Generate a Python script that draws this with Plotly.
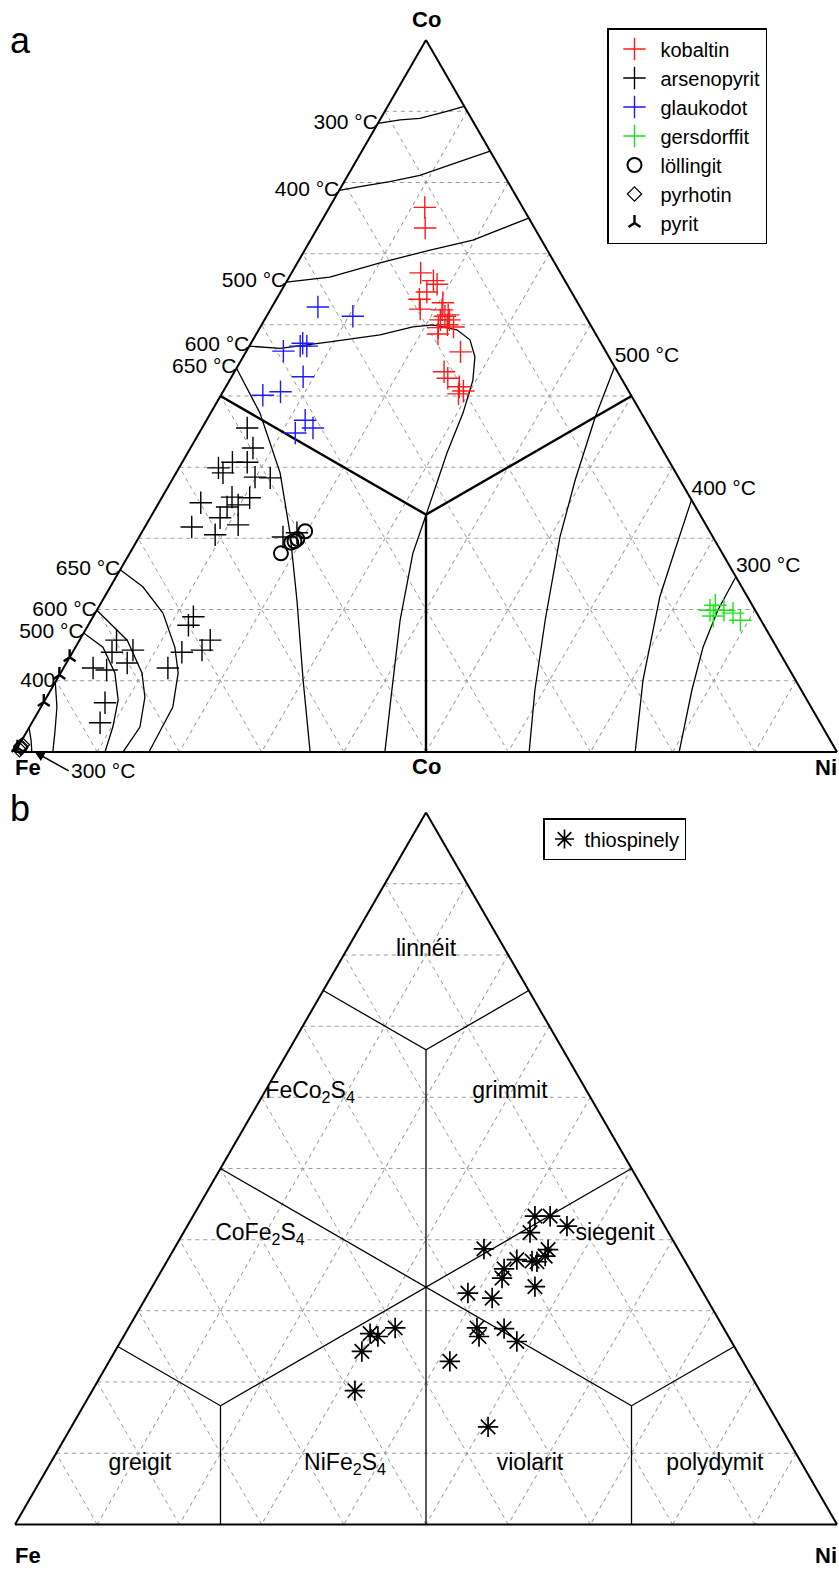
import plotly.graph_objects as go

W, H = 839, 1570

# ---------------------------------------------------------------------------
# Panel a – sulfarsenide compositions, at.% as (Co, Fe, Ni)
# ---------------------------------------------------------------------------
KOBALTIN = [
    (76.5, 11.9, 11.6), (73.6, 13.3, 13.1), (67.3, 17.0, 15.7), (66.2, 16.0, 17.8),
    (65.7, 15.8, 18.5), (64.6, 17.6, 17.8), (63.6, 19.0, 17.4), (62.2, 19.6, 18.2),
    (63.1, 16.4, 20.5), (62.1, 17.0, 20.9), (61.2, 17.1, 21.7), (60.7, 16.8, 22.5),
    (60.7, 17.9, 21.4), (60.0, 17.4, 22.6), (59.6, 18.7, 21.7), (59.7, 16.8, 23.5),
    (58.7, 19.2, 22.1), (56.2, 17.7, 26.1), (53.4, 21.1, 25.5), (52.5, 21.1, 26.4),
    (51.3, 20.3, 28.4), (50.7, 20.1, 29.2), (50.3, 20.9, 28.8), (61.4, 16.6, 22.0),
]
ARSENOPYRIT = [
    (45.5, 49.0, 5.5), (42.7, 49.7, 7.6), (40.7, 53.2, 6.1), (40.7, 51.4, 7.9),
    (39.9, 55.3, 4.8), (39.2, 55.1, 5.7), (38.6, 51.5, 9.9), (38.5, 49.7, 11.8),
    (35.0, 59.9, 5.1), (35.8, 55.7, 8.5), (35.7, 53.6, 10.7), (34.4, 57.0, 8.6),
    (34.7, 55.5, 9.8), (32.9, 58.6, 8.5), (31.9, 56.9, 11.2), (31.6, 62.7, 5.7),
    (30.5, 60.4, 9.1), (30.2, 52.3, 17.5), (30.8, 50.3, 18.9),
    (19.0, 68.8, 12.2), (17.8, 70.0, 12.2), (15.7, 68.4, 15.9), (14.3, 70.1, 15.6),
    (14.0, 72.7, 13.3), (11.8, 75.5, 12.7), (15.7, 79.8, 4.5), (14.0, 81.2, 4.8),
    (14.3, 78.5, 7.2), (12.5, 80.1, 7.4), (11.8, 84.6, 3.6), (11.5, 83.1, 5.4),
    (6.9, 85.6, 7.5), (4.1, 87.6, 8.3),
]
GLAUKODOT = [
    (62.5, 31.9, 5.6), (61.2, 28.3, 10.5), (57.4, 36.3, 6.3), (57.0, 36.8, 6.2),
    (56.3, 39.2, 4.5), (52.7, 38.6, 8.7), (50.1, 44.8, 5.1), (50.6, 42.4, 7.0),
    (46.6, 41.4, 12.0), (45.5, 41.0, 13.5), (44.8, 43.5, 11.7), (57.0, 36.0, 7.0),
]
GERSDORFFIT = [
    (19.9, 5.5, 74.6), (20.6, 4.5, 74.9), (19.9, 3.8, 76.3), (19.5, 2.9, 77.6),
    (18.5, 2.5, 79.0), (19.1, 5.5, 75.4),
]
LOLLINGIT = [
    (27.9, 53.7, 18.4), (29.4, 51.7, 18.9), (29.9, 50.7, 19.4), (31.0, 49.2, 19.8),
    (29.6, 51.2, 19.2),
]
PYRHOTIN = [(0.6, 99.0, 0.4), (1.0, 98.6, 0.4), (0.3, 99.3, 0.4), (0.8, 98.9, 0.3)]
PYRIT = [(13.3, 86.7, 0.0), (10.8, 89.2, 0.0), (7.0, 93.0, 0.0), (0.6, 99.4, 0.0)]

# isotherms (Co, Fe, Ni); first point sits on the triangle edge
ISO_CO_300 = [(88.3, 11.7, 0.0), (88.8, 8.75, 2.45), (89.0, 6.25, 4.75), (89.9, 2.75, 7.35), (90.7, 0.0, 9.3)]
ISO_CO_400 = [(78.9, 21.1, 0.0), (79.4, 18.35, 2.25), (80.1, 14.35, 5.55), (81.0, 10.25, 8.75),
              (82.7, 5.1, 12.2), (84.4, 0.0, 15.6)]
ISO_CO_500 = [(66.0, 34.0, 0.0), (66.7, 28.35, 4.95), (68.7, 21.25, 10.05), (70.5, 14.25, 15.25),
              (71.9, 8.35, 19.75), (75.0, 0.0, 25.0)]
ISO_600 = [(57.0, 43.0, 0.0), (56.7, 39.4, 3.9), (57.6, 32.9, 9.5), (58.6, 26.3, 15.1),
           (59.7, 21.75, 18.55), (60.0, 19.15, 20.85), (59.3, 16.6, 24.1), (57.9, 15.7, 26.4),
           (55.5, 16.3, 28.2), (52.2, 18.2, 29.6), (47.6, 21.7, 30.7), (42.0, 26.45, 31.55),
           (33.6, 33.1, 33.3), (27.9, 37.65, 34.45), (18.5, 43.9, 37.6), (8.7, 49.8, 41.5),
           (0.0, 55.0, 45.0)]
ISO_650 = [(53.9, 46.1, 0.0), (47.6, 46.4, 6.0), (39.2, 48.15, 12.65), (30.8, 51.15, 18.05),
           (21.3, 55.05, 23.65), (10.1, 59.9, 30.0), (0.0, 64.1, 35.9)]
ISO_NI_500 = [(54.1, 0.0, 45.9), (46.9, 6.0, 47.1), (38.2, 12.75, 49.05), (30.2, 18.6, 51.2),
              (18.5, 26.25, 55.25), (8.7, 32.4, 58.9), (0.0, 37.45, 62.55)]
ISO_NI_400 = [(35.4, 0.0, 64.6), (28.4, 5.5, 66.1), (21.8, 10.65, 67.55), (10.1, 18.55, 71.35),
              (0.0, 24.55, 75.45)]
ISO_NI_300 = [(24.6, 0.0, 75.4), (19.9, 4.55, 75.55), (14.7, 8.95, 76.35), (8.7, 13.3, 78.0),
              (0.0, 19.2, 80.8)]
ISO_FE_650 = [(25.6, 74.4, 0.0), (23.2, 72.85, 3.95), (19.5, 72.25, 8.25), (14.7, 73.2, 12.1),
              (11.1, 74.6, 14.3), (6.3, 77.65, 16.05), (0.0, 83.7, 16.3)]
ISO_FE_600 = [(19.9, 80.1, 0.0), (15.7, 78.5, 5.8), (11.1, 79.0, 9.9), (7.7, 80.35, 11.95),
              (3.5, 83.05, 13.45), (0.0, 86.85, 13.15)]
ISO_FE_500 = [(16.7, 83.3, 0.0), (14.7, 81.95, 3.35), (11.1, 82.3, 6.6), (7.3, 83.8, 8.9),
              (3.5, 86.35, 10.15), (0.0, 89.05, 10.95)]
ISO_FE_400 = [(9.8, 90.2, 0.0), (6.3, 91.75, 1.95), (2.7, 93.8, 3.5), (0.0, 95.4, 4.6)]
ISO_FE_300 = [(3.4, 96.6, 0.0), (1.7, 97.2, 1.1), (0.0, 97.95, 2.05)]

# compositional field boundaries of panel a
THIRD = 100 / 3
FIELDS_A_UPPER = [(50, 50, 0), (THIRD, THIRD, THIRD), (50, 0, 50)]
FIELDS_A_STEM = [(THIRD, THIRD, THIRD), (0, 50, 50)]

# ---------------------------------------------------------------------------
# Panel b – thiospinels, at.% as (Co, Fe, Ni)
# ---------------------------------------------------------------------------
THIOSPINELY = [
    (43.3, 15.1, 41.6), (43.3, 13.25, 43.45), (41.9, 11.9, 46.2), (41.0, 16.85, 42.15),
    (38.7, 23.6, 37.7), (38.6, 15.85, 45.55), (37.7, 16.65, 45.65), (37.2, 20.35, 42.45),
    (37.0, 18.6, 44.4), (36.9, 18.05, 45.05), (35.9, 22.55, 41.55), (34.6, 23.45, 41.95),
    (33.4, 20.05, 46.55), (32.5, 28.65, 38.85), (31.8, 26.05, 42.15), (27.6, 39.95, 32.45),
    (26.8, 43.4, 29.8), (26.4, 42.65, 30.95), (27.6, 30.0, 42.4), (26.4, 30.35, 43.25),
    (27.5, 26.75, 45.75), (25.7, 26.1, 48.2), (24.3, 45.65, 30.05), (22.9, 35.65, 41.45),
    (18.8, 49.25, 31.95), (13.7, 35.6, 50.7),
]

SIXTH = 100 / 6
LINNEIT_BOUND = [(75, 25, 0), (4 * SIXTH, SIXTH, SIXTH), (75, 0, 25)]
GREIGIT_BOUND = [(25, 75, 0), (SIXTH, 4 * SIXTH, SIXTH), (0, 75, 25)]
POLYDYMIT_BOUND = [(25, 0, 75), (SIXTH, SIXTH, 4 * SIXTH), (0, 25, 75)]
MEDIAN_FE_CO = [(50, 50, 0), (SIXTH, SIXTH, 4 * SIXTH)]
MEDIAN_CO_NI = [(50, 0, 50), (SIXTH, 4 * SIXTH, SIXTH)]
CENTRAL_STEM = [(4 * SIXTH, SIXTH, SIXTH), (0, 50, 50)]

REGION_NAMES = ["linnéit", "FeCo<sub>2</sub>S<sub>4</sub>", "grimmit", "CoFe<sub>2</sub>S<sub>4</sub>",
                "siegenit", "greigit", "NiFe<sub>2</sub>S<sub>4</sub>", "violarit", "polydymit"]
REGION_CO = [80.6, 60.7, 60.7, 40.7, 40.7, 8.4, 8.4, 8.4, 8.4]
REGION_FE = [9.7, 33.75, 9.45, 49.85, 6.65, 80.6, 55.65, 33.15, 10.65]
REGION_NI = [9.7, 5.55, 29.85, 9.45, 52.65, 11.0, 35.95, 58.45, 80.95]

# ---------------------------------------------------------------------------
DOMAIN_X = [15 / W, 837 / W]
DOMAIN_A_Y = [1 - 752 / H, 1 - 40 / H]
DOMAIN_B_Y = [1 - 1525 / H, 1 - 812 / H]

FONT = "Liberation Sans, Arial, sans-serif"


def abc(points):
    return dict(a=[p[0] for p in points], b=[p[1] for p in points], c=[p[2] for p in points])


def to_paper(dom_y, co, fe, ni):
    """Paper coordinates of a composition, using the same equilateral fit plotly applies."""
    wpx = (DOMAIN_X[1] - DOMAIN_X[0]) * W
    hpx = (dom_y[1] - dom_y[0]) * H
    s3 = 3 ** 0.5
    if wpx > hpx * 2 / s3:
        h = hpx
        w = h * 2 / s3
    else:
        w = wpx
        h = w * s3 / 2
    cx = (DOMAIN_X[0] + DOMAIN_X[1]) / 2 * W
    cy = (dom_y[0] + dom_y[1]) / 2 * H
    tot = co + fe + ni
    x = cx + w / 2 * (ni - fe) / tot
    y = cy - h / 2 + h * co / tot
    return x / W, y / H


fig = go.Figure()


def line(points, subplot, width=1.3):
    fig.add_trace(go.Scatterternary(**abc(points), mode="lines", subplot=subplot,
                                    line=dict(color="black", width=width),
                                    showlegend=False, hoverinfo="skip"))


def edge_label(points, text, pos, subplot="ternary"):
    p = points[0]
    fig.add_trace(go.Scatterternary(a=[p[0]], b=[p[1]], c=[p[2]], mode="text", text=[text],
                                    textposition=pos, subplot=subplot, cliponaxis=False,
                                    textfont=dict(size=21, color="black", family=FONT),
                                    showlegend=False, hoverinfo="skip"))


# ---- panel a: lines -------------------------------------------------------
line(FIELDS_A_UPPER, "ternary", 2.4)
line(FIELDS_A_STEM, "ternary", 2.4)
for curve in (ISO_CO_300, ISO_CO_400, ISO_CO_500, ISO_600, ISO_650, ISO_NI_500, ISO_NI_400,
              ISO_NI_300, ISO_FE_650, ISO_FE_600, ISO_FE_500, ISO_FE_400, ISO_FE_300):
    line(curve, "ternary")

edge_label(ISO_CO_300, "300 °C", "middle left")
edge_label(ISO_CO_400, "400 °C", "middle left")
edge_label(ISO_CO_500, "500 °C", "middle left")
edge_label(ISO_600, "600 °C", "middle left")
edge_label(ISO_650, "650 °C", "middle left")
edge_label(ISO_NI_500, "500 °C", "top right")
edge_label(ISO_NI_400, "400 °C", "top right")
edge_label(ISO_NI_300, "300 °C", "top right")
edge_label(ISO_FE_650, "650 °C", "middle left")
edge_label(ISO_FE_600, "600 °C", "middle left")
edge_label(ISO_FE_500, "500 °C", "middle left")
edge_label(ISO_FE_400, "400", "middle left")

# ---- panel a: minerals ----------------------------------------------------
series_a = [
    ("kobaltin", KOBALTIN, dict(symbol="cross-thin-open", size=16, color="#ff1a1a", line=dict(width=1.4))),
    ("arsenopyrit", ARSENOPYRIT, dict(symbol="cross-thin-open", size=16, color="black", line=dict(width=1.4))),
    ("glaukodot", GLAUKODOT, dict(symbol="cross-thin-open", size=16, color="#1a1aff", line=dict(width=1.4))),
    ("gersdorffit", GERSDORFFIT, dict(symbol="cross-thin-open", size=16, color="#19e619", line=dict(width=1.4))),
    ("löllingit", LOLLINGIT, dict(symbol="circle-open", size=14, color="black", line=dict(width=2))),
    ("pyrhotin", PYRHOTIN, dict(symbol="diamond-open", size=11, color="black", line=dict(width=1.2))),
    ("pyrit", PYRIT, dict(symbol="y-up-open", size=10, color="black", line=dict(width=2.4))),
]
for name, pts, mk in series_a:
    fig.add_trace(go.Scatterternary(**abc(pts), mode="markers", name=name, marker=mk,
                                    subplot="ternary", legend="legend", cliponaxis=False,
                                    hoverinfo="skip"))

# ---- panel b --------------------------------------------------------------
for bound in (LINNEIT_BOUND, GREIGIT_BOUND, POLYDYMIT_BOUND, MEDIAN_FE_CO, MEDIAN_CO_NI, CENTRAL_STEM):
    line(bound, "ternary2")

fig.add_trace(go.Scatterternary(a=REGION_CO, b=REGION_FE, c=REGION_NI, mode="text", text=REGION_NAMES,
                                textposition="middle center", subplot="ternary2",
                                textfont=dict(size=23, color="black", family=FONT),
                                showlegend=False, hoverinfo="skip"))

fig.add_trace(go.Scatterternary(**abc(THIOSPINELY), mode="markers", name="thiospinely",
                                marker=dict(symbol="asterisk-open", size=17, color="black",
                                            line=dict(width=1.7)),
                                subplot="ternary2", legend="legend2", hoverinfo="skip"))

# ---- layout ----------------------------------------------------------------
def axis():
    return dict(showticklabels=False, ticks="", tick0=0, dtick=10, min=0,
                showgrid=True, gridcolor="#9a9a9a", gridwidth=1.3, griddash="4px,4px",
                showline=True, linecolor="black", linewidth=2, layer="below traces",
                title=dict(text=""))


def ternary(dom_y):
    return dict(domain=dict(x=DOMAIN_X, y=dom_y), sum=100, bgcolor="white",
                aaxis=axis(), baxis=axis(), caxis=axis())


annotations = []


def vertex_title(dom_y, comp, text, **kw):
    x, y = to_paper(dom_y, *comp)
    annotations.append(dict(x=x, y=y, xref="paper", yref="paper", text=f"<b>{text}</b>",
                            showarrow=False, font=dict(size=22, color="black", family=FONT), **kw))


vertex_title(DOMAIN_A_Y, (100, 0, 0), "Co", xanchor="center", yanchor="bottom", yshift=6)
vertex_title(DOMAIN_A_Y, (0, 100, 0), "Fe", xanchor="center", yanchor="top", xshift=13, yshift=-1)
vertex_title(DOMAIN_A_Y, (0, 0, 100), "Ni", xanchor="right", yanchor="top", xshift=2, yshift=-1)
vertex_title(DOMAIN_B_Y, (100, 0, 0), "Co", xanchor="center", yanchor="bottom", yshift=32)
vertex_title(DOMAIN_B_Y, (0, 100, 0), "Fe", xanchor="center", yanchor="top", xshift=13, yshift=-17)
vertex_title(DOMAIN_B_Y, (0, 0, 100), "Ni", xanchor="right", yanchor="top", xshift=2, yshift=-17)

# arrowed label for the 300 °C isotherm squeezed into the Fe corner
tip_x, tip_y = to_paper(DOMAIN_A_Y, 0.0, 97.6, 2.4)
annotations.append(dict(x=tip_x, y=tip_y, xref="paper", yref="paper", text="300 °C",
                        showarrow=True, ax=34, ay=19, xanchor="left", arrowhead=2, arrowsize=1.3,
                        arrowwidth=1.5, arrowcolor="black",
                        font=dict(size=21, color="black", family=FONT)))

# panel letters
annotations.append(dict(x=8 / W, y=1 - 18 / H, xref="paper", yref="paper", text="a", showarrow=False,
                        xanchor="left", yanchor="top", font=dict(size=36, color="black", family=FONT)))
annotations.append(dict(x=8 / W, y=1 - 786 / H, xref="paper", yref="paper", text="b", showarrow=False,
                        xanchor="left", yanchor="top", font=dict(size=36, color="black", family=FONT)))

fig.update_layout(
    width=W, height=H, margin=dict(l=0, r=0, t=0, b=0),
    paper_bgcolor="white", plot_bgcolor="white",
    font=dict(family=FONT, color="black"),
    ternary=ternary(DOMAIN_A_Y),
    ternary2=ternary(DOMAIN_B_Y),
    legend=dict(x=607 / W, y=1 - 28 / H, xanchor="left", yanchor="top", bgcolor="white",
                bordercolor="black", borderwidth=1.5, itemwidth=42,
                font=dict(size=20, family=FONT, color="black"),
                itemclick=False, itemdoubleclick=False),
    legend2=dict(x=543 / W, y=1 - 818 / H, xanchor="left", yanchor="top", bgcolor="white",
                 bordercolor="black", borderwidth=1.5, itemwidth=30,
                 font=dict(size=20, family=FONT, color="black"),
                 itemclick=False, itemdoubleclick=False),
    annotations=annotations,
    showlegend=True,
)

fig.write_html("out.html")
